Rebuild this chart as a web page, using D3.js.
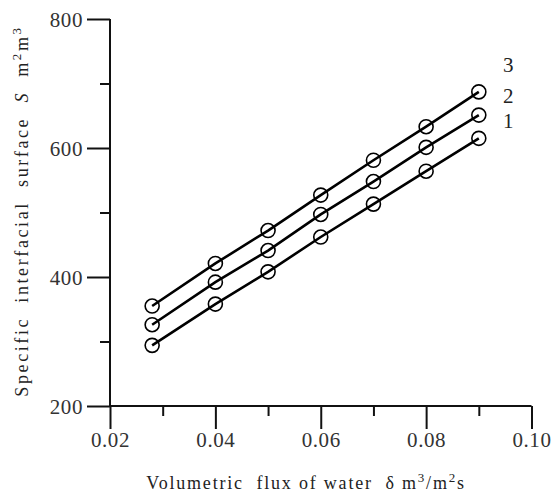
<!DOCTYPE html>
<html>
<head>
<meta charset="utf-8">
<script src="https://cdn.jsdelivr.net/npm/d3@7"></script>
<style>
  body { margin: 0; background: #fff; }
  svg { font-family: "Liberation Serif", "DejaVu Serif", serif; }
  .title { font-size: 18px; fill: #222; letter-spacing: 1.8px; white-space: pre; }
  .num { font-size: 21px; fill: #222; }
</style>
</head>
<body>
<script>
// data
var flux = [0.028, 0.04, 0.05, 0.06, 0.07, 0.08, 0.09];
var curve1 = [294, 358, 408, 462, 513, 564, 615];
var curve2 = [326, 392, 441, 497, 548, 601, 651];
var curve3 = [355, 421, 472, 527, 581, 633, 687];
var curveNames = ["1", "2", "3"];
var xTicks = [0.02, 0.04, 0.06, 0.08, 0.10];
var yTicks = [200, 400, 600, 800];

var svg = d3.select("body").append("svg")
    .attr("width", 555)
    .attr("height", 493);

var x = d3.scaleLinear().domain([0.02, 0.10]).range([110, 531.5]);
var y = d3.scaleLinear().domain([200, 800]).range([406, 19]);

// axes: major ticks + minor ticks
var xAxis = d3.axisBottom(x).tickValues(xTicks).tickFormat(d3.format(".2f")).tickSize(23).tickPadding(6);
var xMinor = d3.axisBottom(x).tickValues([0.03, 0.05, 0.07, 0.09]).tickFormat("").tickSize(10);
var yAxis = d3.axisLeft(y).tickValues(yTicks).tickFormat(d3.format("d")).tickSize(23).tickPadding(4);
var yMinor = d3.axisLeft(y).tickValues([300, 500, 700]).tickFormat("").tickSize(10);

function styleAxis(g) {
    g.attr("font-family", null).attr("font-size", null);
    g.select(".domain").remove();
    g.selectAll("line").attr("stroke", "#111").attr("stroke-width", 2);
    g.selectAll("text")
        .style("font-family", "'Liberation Serif', serif")
        .style("font-size", "21px")
        .style("letter-spacing", "0.6px")
        .attr("fill", "#333");
}

svg.append("g").attr("transform", "translate(0,406)").call(xAxis).call(styleAxis)
    .selectAll("text").attr("dy", "0.55em");
svg.append("g").attr("transform", "translate(0,406)").call(xMinor).call(styleAxis);
svg.append("g").attr("transform", "translate(110,0)").call(yAxis).call(styleAxis)
    .selectAll("text").attr("dy", "0.35em");
svg.append("g").attr("transform", "translate(110,0)").call(yMinor).call(styleAxis);

// axis lines
svg.append("line").attr("x1", x(0.02)).attr("x2", x(0.10)).attr("y1", y(200)).attr("y2", y(200))
    .attr("stroke", "#111").attr("stroke-width", 2);
svg.append("line").attr("x1", x(0.02)).attr("x2", x(0.02)).attr("y1", y(800)).attr("y2", y(200))
    .attr("stroke", "#111").attr("stroke-width", 2);

// curves
var curves = [curve1, curve2, curve3];
var line = d3.line()
    .x(function(d, i) { return x(flux[i]); })
    .y(function(d) { return y(d); });

curves.forEach(function(vals, k) {
    svg.append("path")
        .attr("d", line(vals))
        .attr("fill", "none")
        .attr("stroke", "#000")
        .attr("stroke-width", 2.6);

    svg.selectAll(".pt" + k)
        .data(vals)
        .enter().append("circle")
        .attr("class", "pt" + k)
        .attr("cx", function(d, i) { return x(flux[i]); })
        .attr("cy", function(d) { return y(d); })
        .attr("r", 7)
        .attr("fill", "none")
        .attr("stroke", "#000")
        .attr("stroke-width", 1.6);
});

// curve numbers
var numY = [128, 103, 72];
curveNames.forEach(function(n, k) {
    svg.append("text")
        .attr("class", "num")
        .attr("x", 503)
        .attr("y", numY[k])
        .text(n);
});

// axis titles
var xt = svg.append("text")
    .attr("class", "title")
    .attr("x", 306)
    .attr("y", 489)
    .attr("text-anchor", "middle");
xt.append("tspan").text("Volumetric  flux of water  \u03b4 m");
xt.append("tspan").attr("dy", -7).attr("font-size", 13).text("3");
xt.append("tspan").attr("dy", 7).text("/m");
xt.append("tspan").attr("dy", -7).attr("font-size", 13).text("2");
xt.append("tspan").attr("dy", 7).text("s");

var yt = svg.append("text")
    .attr("class", "title")
    .attr("transform", "translate(28,211) rotate(-90)")
    .attr("text-anchor", "middle")
    .style("letter-spacing", "2.6px");
yt.append("tspan").text("Specific  interfacial  surface  ");
yt.append("tspan").attr("font-style", "italic").text("S");
yt.append("tspan").text("  m");
yt.append("tspan").attr("dy", -7).attr("font-size", 13).text("2");
yt.append("tspan").attr("dy", 7).text("m");
yt.append("tspan").attr("dy", -7).attr("font-size", 13).text("3");
</script>
</body>
</html>
